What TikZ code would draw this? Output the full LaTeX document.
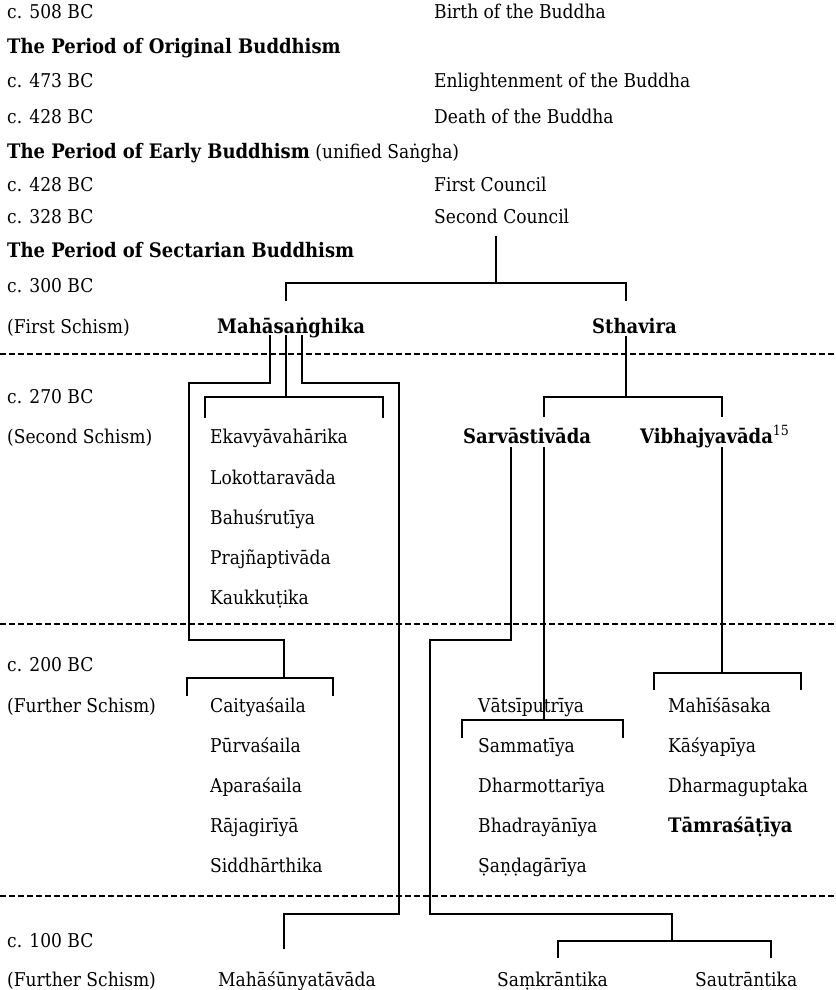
\documentclass[tikz,border=0pt]{standalone}
\usepackage{fontspec}
\setmainfont{DejaVuSerifCondensed.ttf}[BoldFont=DejaVuSerifCondensed-Bold.ttf]
\begin{document}
\begin{tikzpicture}[x=1pt,y=-1pt,
  lbl/.style={anchor=base west,inner sep=0pt,font=\fontsize{19}{24}\selectfont},
  bld/.style={lbl,font=\fontsize{20}{24}\selectfont\bfseries},
  ln/.style={line width=1.6pt,line cap=rect},
  dsh/.style={line width=1.1pt,dash pattern=on 6pt off 3pt}]
\useasboundingbox (0,0) rectangle (835,990);
% timeline column
\node[lbl] (d1) at (7,19) {c. 508 BC};
\node[bld] (p1) at (7,53) {The Period of Original Buddhism};
\node[lbl] (d2) at (7,88) {c. 473 BC};
\node[lbl] (d3) at (7,123) {c. 428 BC};
\node[lbl] (p2) at (7,158) {{\fontsize{20}{24}\selectfont\bfseries The Period of Early Buddhism} (unified Saṅgha)};
\node[lbl] (d4) at (7,191) {c. 428 BC};
\node[lbl] (d5) at (7,223) {c. 328 BC};
\node[bld] (p3) at (7,257) {The Period of Sectarian Buddhism};
\node[lbl] (d6) at (7,292) {c. 300 BC};
\node[lbl] (s1l) at (7,333) {(First Schism)};
\node[lbl] (d7) at (7,403) {c. 270 BC};
\node[lbl] (s2l) at (7,443) {(Second Schism)};
\node[lbl] (d8) at (7,671) {c. 200 BC};
\node[lbl] (s3l) at (7,712) {(Further Schism)};
\node[lbl] (d9) at (7,947) {c. 100 BC};
\node[lbl] (s4l) at (7,986) {(Further Schism)};
% events
\node[lbl] (e1) at (434,19) {Birth of the Buddha};
\node[lbl] (e2) at (434,88) {Enlightenment of the Buddha};
\node[lbl] (e3) at (434,123) {Death of the Buddha};
\node[lbl] (e4) at (434,191) {First Council};
\node[lbl] (e5) at (434,223) {Second Council};
% schools
\node[bld] (maha) at (217,333) {Mahāsaṅghika};
\node[bld] (stha) at (592,333) {Sthavira};
\node[lbl] (eka) at (210,443) {Ekavyāvahārika};
\node[lbl] (lok) at (210,484) {Lokottaravāda};
\node[lbl] (bah) at (210,524) {Bahuśrutīya};
\node[lbl] (pra) at (210,564) {Prajñaptivāda};
\node[lbl] (kau) at (210,604) {Kaukkuṭika};
\node[bld] (sar) at (463,443) {Sarvāstivāda};
\node[bld] (vib) at (640,443) {Vibhajyavāda\textsuperscript{\normalfont 15}};
\node[lbl] (cai) at (210,712) {Caityaśaila};
\node[lbl] (pur) at (210,752) {Pūrvaśaila};
\node[lbl] (apa) at (210,792) {Aparaśaila};
\node[lbl] (raj) at (210,832) {Rājagirīyā};
\node[lbl] (sid) at (210,872) {Siddhārthika};
\node[lbl] (vat) at (478,712) {Vātsīputrīya};
\node[lbl] (sam) at (478,752) {Sammatīya};
\node[lbl] (dha) at (478,792) {Dharmottarīya};
\node[lbl] (bha) at (478,832) {Bhadrayānīya};
\node[lbl] (san) at (478,872) {Ṣaṇḍagārīya};
\node[lbl] (mah) at (668,712) {Mahīśāsaka};
\node[lbl] (kas) at (668,752) {Kāśyapīya};
\node[lbl] (dhg) at (668,792) {Dharmaguptaka};
\node[bld] (tam) at (668,832) {Tāmraśāṭīya};
\node[lbl] (msu) at (218,986) {Mahāśūnyatāvāda};
\node[lbl] (skr) at (497,986) {Saṃkrāntika};
\node[lbl] (sau) at (695,986) {Sautrāntika};
% dashed separators
\coordinate (L1) at (0,354); \coordinate (R1) at (835,354);
\coordinate (L2) at (0,624); \coordinate (R2) at (835,624);
\coordinate (L3) at (0,896); \coordinate (R3) at (835,896);
\draw[dsh] (L1) -- (R1);
\draw[dsh] (L2) -- (R2);
\draw[dsh] (L3) -- (R3);
% junction coordinates
\coordinate (a1) at (496,237); \coordinate (a2) at (496,283);
\coordinate (b1) at (286,300); \coordinate (b2) at (286,283);
\coordinate (b3) at (626,283); \coordinate (b4) at (626,300);
\coordinate (m1) at (270,336); \coordinate (m2) at (270,383);
\coordinate (m3) at (189,383); \coordinate (m4) at (189,640);
\coordinate (m5) at (284,640); \coordinate (m6) at (284,678);
\coordinate (c1) at (187,695); \coordinate (c2) at (187,678);
\coordinate (c3) at (333,678); \coordinate (c4) at (333,695);
\coordinate (n1) at (286,336); \coordinate (n2) at (286,397);
\coordinate (k1) at (205,417); \coordinate (k2) at (205,397);
\coordinate (k3) at (383,397); \coordinate (k4) at (383,417);
\coordinate (r1) at (302,336); \coordinate (r2) at (302,383);
\coordinate (r3) at (399,383); \coordinate (r4) at (399,914);
\coordinate (r5) at (284,914); \coordinate (r6) at (284,948);
\coordinate (s1) at (626,337); \coordinate (s2) at (626,397);
\coordinate (g1) at (544,416); \coordinate (g2) at (544,397);
\coordinate (g3) at (722,397); \coordinate (g4) at (722,416);
\coordinate (q1) at (511,448); \coordinate (q2) at (511,640);
\coordinate (q3) at (430,640); \coordinate (q4) at (430,914);
\coordinate (q5) at (672,914); \coordinate (q6) at (672,941);
\coordinate (f1) at (558,957); \coordinate (f2) at (558,941);
\coordinate (f3) at (771,941); \coordinate (f4) at (771,957);
\coordinate (t1) at (544,448); \coordinate (t2) at (544,720);
\coordinate (h1) at (462,737); \coordinate (h2) at (462,720);
\coordinate (h3) at (623,720); \coordinate (h4) at (623,737);
\coordinate (v1) at (722,448); \coordinate (v2) at (722,673);
\coordinate (w1) at (654,689); \coordinate (w2) at (654,673);
\coordinate (w3) at (801,673); \coordinate (w4) at (801,689);
% tree lines
\draw[ln] (a1) -- (a2);
\draw[ln] (b1) -- (b2) -- (b3) -- (b4);
\draw[ln] (m1) -- (m2) -- (m3) -- (m4) -- (m5) -- (m6);
\draw[ln] (c1) -- (c2) -- (c3) -- (c4);
\draw[ln] (n1) -- (n2);
\draw[ln] (k1) -- (k2) -- (k3) -- (k4);
\draw[ln] (r1) -- (r2) -- (r3) -- (r4) -- (r5) -- (r6);
\draw[ln] (s1) -- (s2);
\draw[ln] (g1) -- (g2) -- (g3) -- (g4);
\draw[ln] (q1) -- (q2) -- (q3) -- (q4) -- (q5) -- (q6);
\draw[ln] (f1) -- (f2) -- (f3) -- (f4);
\draw[ln] (t1) -- (t2);
\draw[ln] (h1) -- (h2) -- (h3) -- (h4);
\draw[ln] (v1) -- (v2);
\draw[ln] (w1) -- (w2) -- (w3) -- (w4);
\end{tikzpicture}
\end{document}
